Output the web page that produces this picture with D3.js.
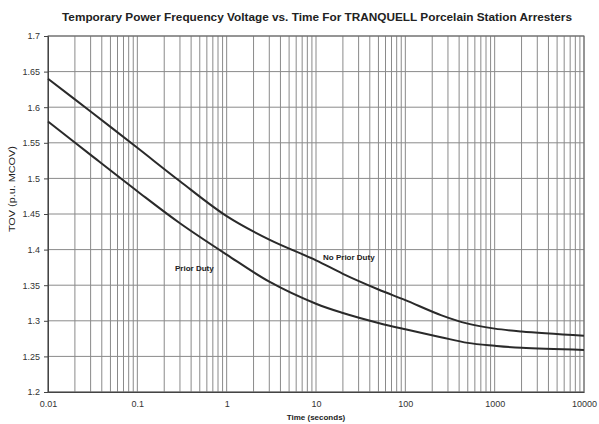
<!DOCTYPE html>
<html>
<head>
<meta charset="utf-8">
<script src="https://cdn.jsdelivr.net/npm/d3@7"></script>
<style>
  body { margin: 0; background: #fff; }
  svg { display: block; font-family: Arial, "Liberation Sans", sans-serif; }
</style>
</head>
<body>
<svg id="chart" width="599" height="424"></svg>
<script>
// (time in seconds, TOV in p.u. MCOV)
let times = [0.01, 0.03, 0.1, 0.3, 1, 3, 10, 20, 50, 100, 250, 500, 1000, 2000, 10000];
let noPriorDuty = [1.64, 1.594, 1.543, 1.496, 1.447, 1.414, 1.385, 1.366, 1.344, 1.329, 1.308, 1.296, 1.289, 1.285, 1.279];
let priorDuty = [1.58, 1.533, 1.482, 1.437, 1.393, 1.355, 1.324, 1.311, 1.297, 1.288, 1.277, 1.269, 1.265, 1.262, 1.259];

let xTicks = [0.01, 0.1, 1, 10, 100, 1000, 10000];
let xTickLabels = ['0.01', '0.1', '1', '10', '100', '1000', '10000'];
let yTicks = [1.2, 1.25, 1.3, 1.35, 1.4, 1.45, 1.5, 1.55, 1.6, 1.65, 1.7];

let margin = {top: 36, right: 15, bottom: 32, left: 48};
let width = 599, height = 424;

let svg = d3.select('#chart');

let x = d3.scaleLog()
  .domain([0.01, 10000])
  .range([margin.left, width - margin.right]);

let y = d3.scaleLinear()
  .domain([1.2, 1.7])
  .range([height - margin.bottom, margin.top]);

// minor log grid 2..9 per decade
let gridX = [];
for (let d = -2; d < 4; d++) {
  for (let m = 2; m <= 9; m++) gridX.push(m * Math.pow(10, d));
}

let grid = svg.append('g').attr('class', 'grid');

grid.selectAll('line.v')
  .data(gridX.concat(xTicks))
  .enter().append('line')
  .attr('class', 'v')
  .attr('x1', d => x(d)).attr('x2', d => x(d))
  .attr('y1', y(1.7)).attr('y2', y(1.2))
  .attr('stroke', '#8a8a8a')
  .attr('stroke-width', 1);

grid.selectAll('line.h')
  .data(yTicks)
  .enter().append('line')
  .attr('class', 'h')
  .attr('x1', x(0.01)).attr('x2', x(10000))
  .attr('y1', d => y(d)).attr('y2', d => y(d))
  .attr('stroke', '#8a8a8a')
  .attr('stroke-width', 1);

// plot frame
svg.append('rect')
  .attr('x', x(0.01))
  .attr('y', y(1.7))
  .attr('width', x(10000) - x(0.01))
  .attr('height', y(1.2) - y(1.7))
  .attr('fill', 'none')
  .attr('stroke', '#666')
  .attr('stroke-width', 1);

// axes
let yAxis = d3.axisLeft(y)
  .tickValues(yTicks)
  .tickSize(4)
  .tickFormat(d => d3.format('')(+d.toFixed(2)));

svg.append('g')
  .attr('transform', 'translate(' + x(0.01) + ',0)')
  .call(yAxis)
  .call(g => g.select('.domain').attr('stroke', '#444'))
  .call(g => g.selectAll('.tick line').attr('stroke', '#444'))
  .call(g => g.selectAll('.tick text')
    .attr('fill', '#333')
    .attr('font-size', 9)
    .attr('x', -8));

let xAxis = d3.axisBottom(x)
  .tickValues(xTicks)
  .tickSize(0)
  .tickFormat((d, i) => xTickLabels[i]);

svg.append('g')
  .attr('transform', 'translate(0,' + y(1.2) + ')')
  .call(xAxis)
  .call(g => g.select('.domain').attr('stroke', '#444'))
  .call(g => g.selectAll('.tick text')
    .attr('fill', '#333')
    .attr('font-size', 9)
    .attr('dy', '1.35em'));

// curves
let line = d3.line()
  .x((d, i) => x(times[i]))
  .y(d => y(d))
  .curve(d3.curveCatmullRom.alpha(0.5));

[noPriorDuty, priorDuty].forEach(function(s) {
  svg.append('path')
    .datum(s)
    .attr('d', line)
    .attr('fill', 'none')
    .attr('stroke', '#2a2a2a')
    .attr('stroke-width', 2);
});

// curve labels
svg.append('text')
  .attr('x', x(12)).attr('y', y(1.389) + 3)
  .attr('font-size', 8).attr('font-weight', 'bold').attr('fill', '#222')
  .text('No Prior Duty');

svg.append('text')
  .attr('x', x(0.264)).attr('y', y(1.374) + 3)
  .attr('font-size', 8).attr('font-weight', 'bold').attr('fill', '#222')
  .text('Prior Duty');

// titles
svg.append('text')
  .attr('x', 317).attr('y', 21)
  .attr('text-anchor', 'middle')
  .attr('font-size', 11).attr('font-weight', 'bold').attr('fill', '#222')
  .attr('textLength', 510).attr('lengthAdjust', 'spacingAndGlyphs')
  .text('Temporary Power Frequency Voltage vs. Time For TRANQUELL Porcelain Station Arresters');

svg.append('text')
  .attr('x', x(10)).attr('y', 420)
  .attr('text-anchor', 'middle')
  .attr('font-size', 8).attr('font-weight', 'bold').attr('fill', '#222')
  .text('Time (seconds)');

svg.append('text')
  .attr('transform', 'translate(15,' + y(1.485) + ') rotate(-90)')
  .attr('text-anchor', 'middle')
  .attr('font-size', 8.5).attr('fill', '#222')
  .attr('textLength', 86).attr('lengthAdjust', 'spacingAndGlyphs')
  .text('TOV (p.u. MCOV)');
</script>
</body>
</html>
